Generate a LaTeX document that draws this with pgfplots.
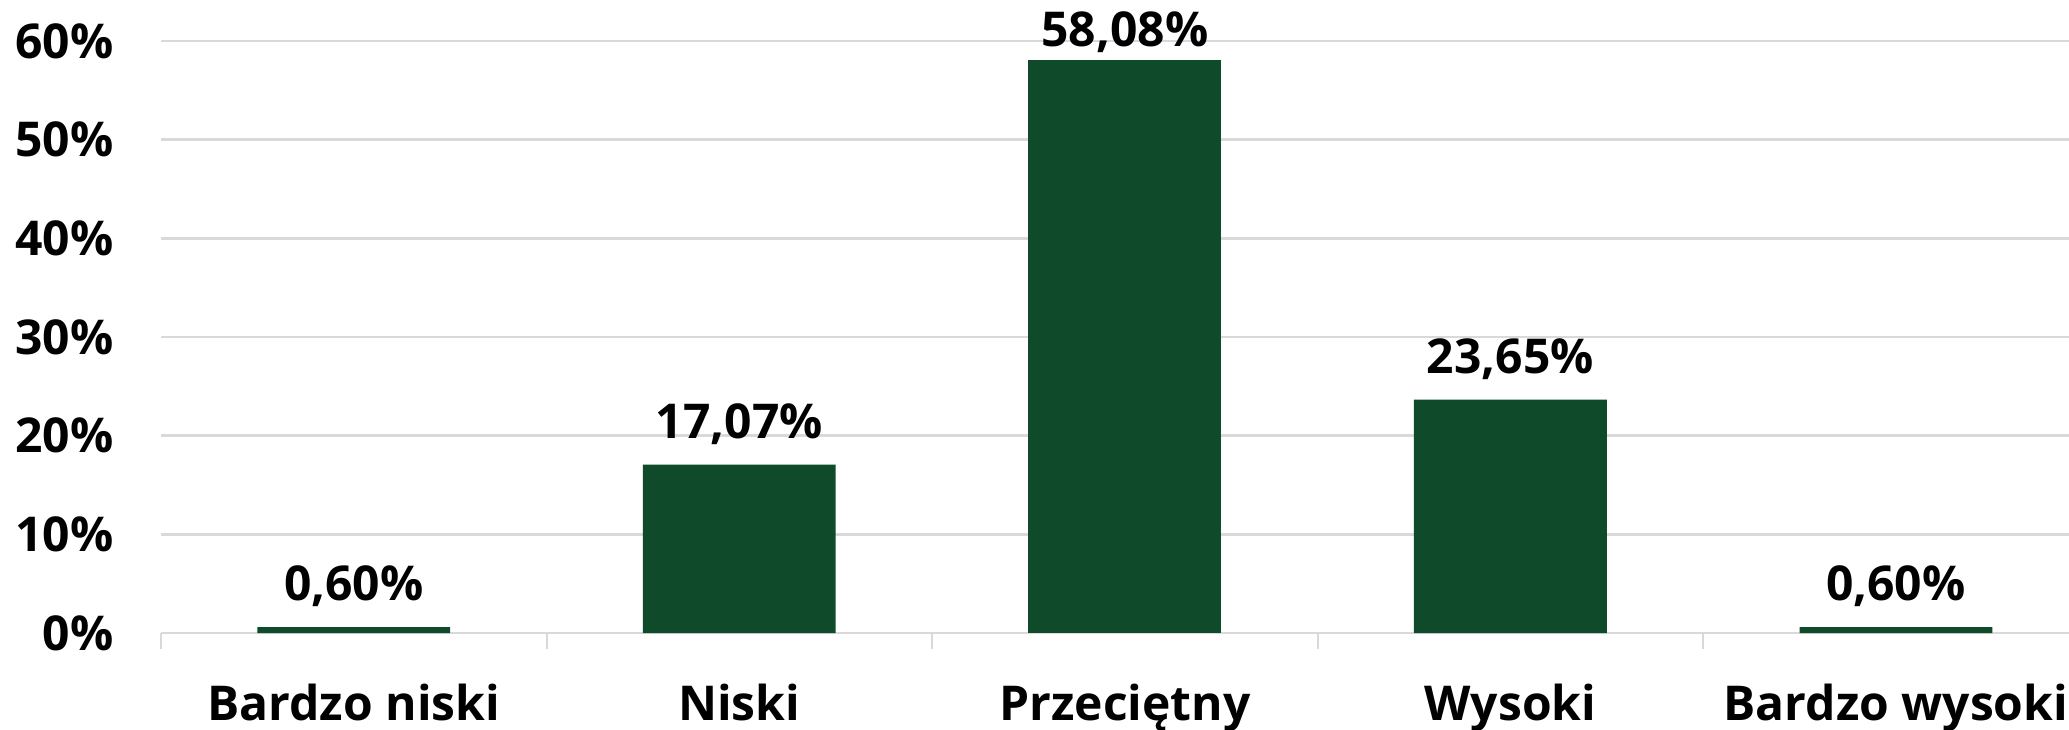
\documentclass[border=0pt]{standalone}
\usepackage{fontspec}
\setmainfont{Open Sans}
\usepackage{pgfplots}
\pgfplotsset{compat=1.18}
\definecolor{bargreen}{HTML}{0F4B2B}
\definecolor{gridgray}{HTML}{D9D9D9}
\begin{document}
\begin{tikzpicture}
\begin{axis}[
  name=ax,
  scale only axis,
  width=954bp, height=296bp,
  xmin=-0.5, xmax=4.449,
  ymin=0, ymax=60,
  axis lines*=left,
  y axis line style={draw=none},
  x axis line style={gridgray, line width=1.2bp},
  xtick={0,1,2,3,4},
  xticklabels={Bardzo niski,Niski,Przeciętny,Wysoki,Bardzo wysoki},
  minor xtick={-0.5,0.5,1.5,2.5,3.5,4.5},
  major x tick style={draw=none},
  minor x tick style={gridgray, line width=1bp},
  minor tick length=8bp,
  tick align=outside,
  ytick={0,10,20,30,40,50,60},
  yticklabel={\pgfmathprintnumber{\tick}\%},
  major y tick style={draw=none},
  ymajorgrids,
  grid style={gridgray, line width=1.2bp},
  /pgf/number format/assume math mode=true,
  ticklabel style={font=\fontsize{24bp}{28bp}\selectfont\bfseries},
  xticklabel style={yshift=-17.5bp},
  yticklabel style={xshift=-16bp},
  nodes near coords,
  point meta=explicit symbolic,
  every node near coord/.append style={font=\fontsize{24bp}{28bp}\selectfont\bfseries, text=black},
]
\addplot[ybar, bar width=0.5, fill=bargreen, draw=none,
  every node near coord/.append style={yshift=6.5bp}] coordinates {
  (0,0.60) [0,60\%]
  (1,17.07) [17,07\%]
  (3,23.65) [23,65\%]
  (4,0.60) [0,60\%]
};
\addplot[ybar, bar width=0.5, fill=bargreen, draw=none] coordinates {
  (2,58.08) [58,08\%]
};
\end{axis}
\pgfresetboundingbox
\path[use as bounding box] ([shift={(-80.5bp,-48.5bp)}]ax.south west) rectangle ([shift={(0bp,20.5bp)}]ax.north east);
\end{tikzpicture}
\end{document}
